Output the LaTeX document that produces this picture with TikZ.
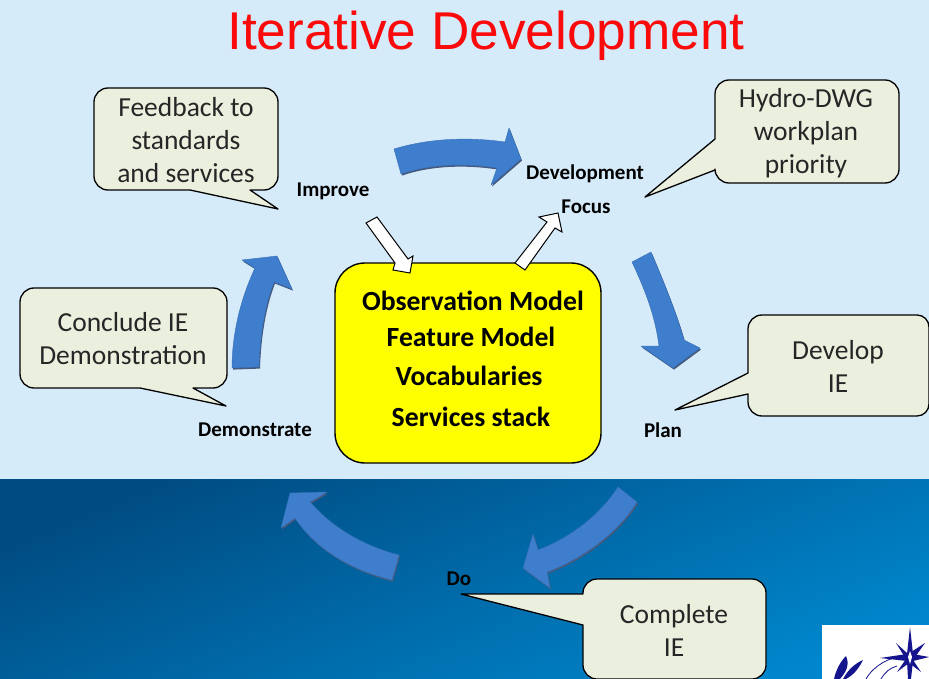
\documentclass[tikz,border=0pt]{standalone}
\usepackage{fontspec}
\setmainfont{Carlito}
\newfontfamily\titlefont{Liberation Sans}
\definecolor{skybg}{RGB}{214,235,250}
\definecolor{deepA}{RGB}{0,76,130}
\definecolor{deepB}{RGB}{0,134,204}
\definecolor{calloutfill}{RGB}{235,239,222}
\definecolor{arrowblue}{RGB}{62,126,204}
\definecolor{arrowedge}{RGB}{70,90,125}
\definecolor{logoblue}{RGB}{20,20,140}
\definecolor{coreyellow}{RGB}{255,255,0}
\definecolor{titlered}{RGB}{250,10,10}
\tikzset{
  callout/.style={draw=black,line width=1.3pt,fill=calloutfill,line join=round},
  callouttext/.style={font=\fontsize{27.5}{33}\selectfont,align=center,text=black!85,inner sep=0pt},
  steplabel/.style={font=\bfseries\fontsize{21}{24}\selectfont,text=black,inner sep=0pt},
  coretext/.style={font=\bfseries\fontsize{27.7}{30}\selectfont,text=black,inner sep=0pt},
  bluearrow/.style={fill=arrowblue,draw=arrowblue!90!black,line width=.4pt,line join=round},
  arrowshade/.style={fill=arrowedge,draw=none},
  whitearrow/.style={fill=white,draw=black,line width=1pt,line join=miter}
}
\newcommand{\blockarrow}[1]{%
  \fill[arrowshade,shift={(1,1.6)}] #1;
  \draw[bluearrow] #1;}
\begin{document}
\begin{tikzpicture}[x=1pt,y=-1pt]
\useasboundingbox (0,0) rectangle (929,679);
\fill[skybg] (0,0) rectangle (929,479);
\shade[left color=deepA,right color=deepB,shading angle=22] (0,479) rectangle (929,679);
\node[font=\titlefont\fontsize{53.2}{60}\selectfont,text=titlered,inner sep=0pt] (title) at (486,36) {Iterative Development};

% blue cycle arrows
\blockarrow{(394,149) .. controls (430,138) and (470,137) .. (505,142) -- (509,128) -- (521,159) -- (491,185) -- (497,168) .. controls (465,163) and (430,164) .. (401,174) -- cycle}
\blockarrow{(632,262) -- (651,252) .. controls (665,285) and (677,315) .. (684,340) -- (700,348) -- (673,368) -- (641,346) -- (659,346) .. controls (655,315) and (645,290) .. (632,262) -- cycle}
\blockarrow{(618,487) -- (637,502) .. controls (620,530) and (585,558) .. (547,572) -- (550,588) -- (523,568) -- (533,534) -- (538,550) .. controls (570,538) and (600,515) .. (618,487) -- cycle}
\blockarrow{(399,555) -- (392,580) .. controls (350,570) and (315,548) .. (295,518) -- (281,528) -- (290,493) -- (327,492) -- (310,502) .. controls (330,525) and (360,545) .. (399,555) -- cycle}
\blockarrow{(232,368) -- (259,367) .. controls (260,335) and (265,305) .. (274,282) -- (292,289) -- (277,256) -- (242,260) -- (255,268) .. controls (240,300) and (232,335) .. (232,368) -- cycle}

% central box
\node[draw=black,line width=1.4pt,fill=coreyellow,rounded corners=30pt,minimum width=266pt,minimum height=200pt,inner sep=0pt] (core) at (468,363) {};
\node[coretext] (obs) at (473,301) {Observation Model};
\node[coretext] (feat) at (471,337) {Feature Model};
\node[coretext] (voc) at (469,376) {Vocabularies};
\node[coretext] (serv) at (471,417) {Services stack};

% white arrows
\draw[whitearrow] (366,223) -- (377,217) -- (408,259) -- (413,256) -- (410,273) -- (393,270) -- (395,263) -- cycle;
\draw[whitearrow] (515,263) -- (525,270) -- (555,228) -- (562,232) -- (558,213) -- (539,217) -- (547,222) -- cycle;

% callouts
\draw[callout] (108,88) -- (264,88) arc[start angle=-90,end angle=0,radius=14] -- (278,176) arc[start angle=0,end angle=90,radius=14] -- (250,190) -- (278,209) -- (190,190) -- (108,190) arc[start angle=90,end angle=180,radius=14] -- (94,102) arc[start angle=180,end angle=270,radius=14] -- cycle;
\draw[callout] (729,80) -- (885,80) arc[start angle=-90,end angle=0,radius=14] -- (899,169) arc[start angle=0,end angle=90,radius=14] -- (729,183) arc[start angle=90,end angle=180,radius=14] -- (715,170) -- (645,197) -- (715,139) -- (715,94) arc[start angle=180,end angle=270,radius=14] -- cycle;
\draw[callout] (762,315) -- (917,315) arc[start angle=-90,end angle=0,radius=12] -- (929,404) arc[start angle=0,end angle=90,radius=12] -- (762,416) arc[start angle=90,end angle=180,radius=14] -- (748,394) -- (675,410) -- (748,373) -- (748,329) arc[start angle=180,end angle=270,radius=14] -- cycle;
\draw[callout] (34,288) -- (213,288) arc[start angle=-90,end angle=0,radius=14] -- (227,374) arc[start angle=0,end angle=90,radius=14] -- (193,388) -- (226,406) -- (140,388) -- (34,388) arc[start angle=90,end angle=180,radius=14] -- (20,302) arc[start angle=180,end angle=270,radius=14] -- cycle;
\draw[callout] (597,579) -- (752,579) arc[start angle=-90,end angle=0,radius=14] -- (766,665) arc[start angle=0,end angle=90,radius=14] -- (597,679) arc[start angle=90,end angle=180,radius=14] -- (583,625) -- (461,594) -- (583,594) -- (583,593) arc[start angle=180,end angle=270,radius=14] -- cycle;

\node[callouttext] (t1) at (186,140) {Feedback to\\standards\\and services};
\node[callouttext] (t2) at (806,133) {Hydro-DWG\\workplan\\priority};
\node[callouttext] (t3) at (838,366) {Develop\\IE};
\node[callouttext] (t4) at (123,339) {Conclude IE\\Demonstration};
\node[callouttext] (t5) at (674,630) {Complete\\IE};

% step labels
\node[steplabel] (improve) at (333,191) {Improve};
\node[steplabel] (devel) at (585,174) {Development};
\node[steplabel] (focus) at (586,207) {Focus};
\node[steplabel] (demo) at (255,430) {Demonstrate};
\node[steplabel] (plan) at (663,430) {Plan};
\node[steplabel] (do) at (459,579) {Do};

% logo
\fill[white] (822,625) rectangle (929,679);
\fill[logoblue] (910,627) -- (913,654) -- (929,657) -- (913,661) -- (911,679) -- (908,679) -- (907,661) -- (880,658) -- (907,654) -- cycle;
\fill[logoblue] (896,643) -- (908,654) -- (925,643) -- (913,660) -- (921,672) -- (909,663) -- (897,672) -- (906,659) -- cycle;
\fill[white] (910,651) -- (912,657) -- (910,664) -- (908,657) -- cycle;
\draw[logoblue,line width=.8pt] (866,679) .. controls (874,665) and (890,657) .. (904,656);
\draw[logoblue,line width=.8pt] (881,679) .. controls (885,672) and (890,668) .. (897,666);
\fill[logoblue] (846,656) .. controls (850,665) and (846,672) .. (840,679) -- (834,679) .. controls (836,670) and (840,662) .. (846,656) -- cycle;
\fill[logoblue] (863,660) .. controls (858,670) and (853,675) .. (846,679) -- (843,679) .. controls (848,670) and (854,664) .. (863,660) -- cycle;
\end{tikzpicture}
\end{document}
